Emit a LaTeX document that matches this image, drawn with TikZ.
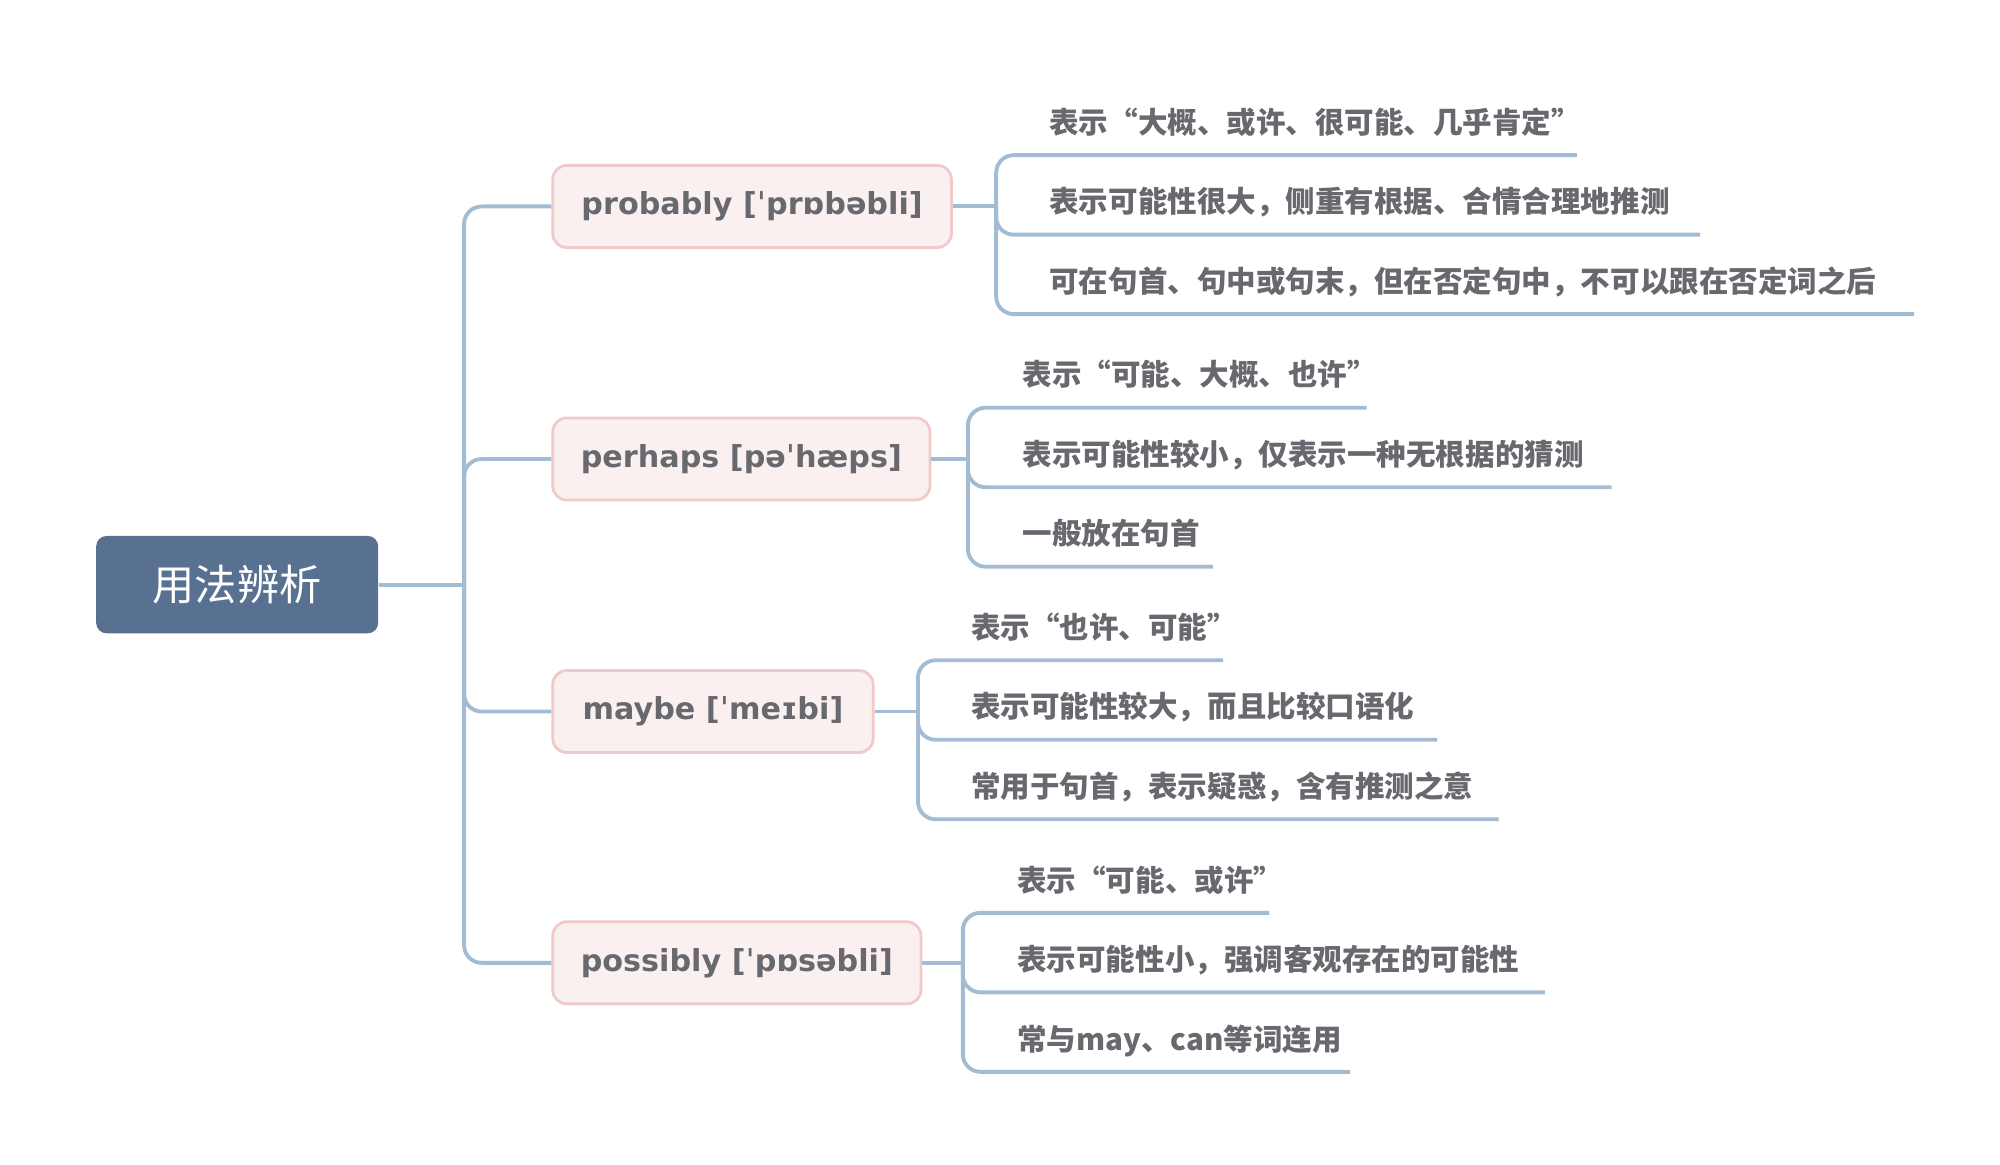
\documentclass[tikz,border=0pt]{standalone}
\usepackage{fontspec}
\newfontfamily\cjk{Noto Sans CJK SC}
\newfontfamily\ipa{DejaVu Sans}
\usepackage{tikz}
\usetikzlibrary{positioning,calc}
\definecolor{rootblue}{HTML}{587190}
\definecolor{linkblue}{HTML}{A3BBD3}
\definecolor{wordfill}{HTML}{FBF0F0}
\definecolor{wordline}{HTML}{F0CACA}
\definecolor{txtgray}{HTML}{68686F}
\begin{document}
\begin{tikzpicture}[x=0.01282cm,y=-0.01282cm]
    \tikzset{
        root/.style={fill=rootblue, rounded corners=3pt, text=white, minimum width=220*0.01282cm, minimum height=76*0.01282cm, font=\cjk\fontsize{12}{14}\selectfont},
        word/.style={fill=wordfill, draw=wordline, line width=0.8pt, rounded corners=4pt, text=txtgray, minimum height=64*0.01282cm, anchor=west, align=left, inner xsep=8pt, font=\ipa\bfseries\fontsize{8.6}{11}\selectfont},
        leaf/.style={anchor=base west, text=txtgray, inner sep=0pt, font=\cjk\bfseries\fontsize{8.4}{10}\selectfont},
        link/.style={draw=linkblue, line width=1.1pt, rounded corners=5pt},
    }
    \useasboundingbox (0,0) rectangle (1560,908);

    \node[root] (root) at (185,456) {用法辨析};

    \node[word, minimum width=311*0.01282cm] (probably) at (430,161) {probably [ˈprɒbəbli]};
    \node[word, minimum width=290*0.01282cm] (perhaps) at (430,358) {perhaps [pəˈhæps]};
    \node[word, minimum width=250*0.01282cm] (maybe) at (430,555) {maybe [ˈmeɪbi]};
    \node[word, minimum width=286*0.01282cm] (possibly) at (430,751) {possibly [ˈpɒsəbli]};

    % trunk
    \coordinate (trunk) at (362,456);
    \draw[link] (root.east) -- (trunk);
    \foreach \w in {probably,perhaps,maybe,possibly}
        \draw[link] (trunk) -- (trunk |- \w.west) -- (\w.west);

    % leaves of probably
    \node[leaf] (p1) at (818,104) {表示“大概、或许、很可能、几乎肯定”};
    \node[leaf] (p2) at (818,166) {表示可能性很大，侧重有根据、合情合理地推测};
    \node[leaf] (p3) at (818,228) {可在句首、句中或句末，但在否定句中，不可以跟在否定词之后};
    \draw[link] (probably.east) -- (777,161);
    \draw[link] (1230,121) -- (777,121) -- (777,245) -- (1493,245);
    \draw[link] (777,161) -- (777,183) -- (1326,183);

    % leaves of perhaps
    \node[leaf] (h1) at (797,301) {表示“可能、大概、也许”};
    \node[leaf] (h2) at (797,363) {表示可能性较小，仅表示一种无根据的猜测};
    \node[leaf] (h3) at (797,425) {一般放在句首};
    \draw[link] (perhaps.east) -- (755,358);
    \draw[link] (1066,318) -- (755,318) -- (755,442) -- (946,442);
    \draw[link] (755,358) -- (755,380) -- (1257,380);

    % leaves of maybe
    \node[leaf] (m1) at (757,498) {表示“也许、可能”};
    \node[leaf] (m2) at (757,560) {表示可能性较大，而且比较口语化};
    \node[leaf] (m3) at (757,622) {常用于句首，表示疑惑，含有推测之意};
    \draw[link] (maybe.east) -- (716,555);
    \draw[link] (954,515) -- (716,515) -- (716,639) -- (1169,639);
    \draw[link] (716,555) -- (716,577) -- (1121,577);

    % leaves of possibly
    \node[leaf] (s1) at (793,695) {表示“可能、或许”};
    \node[leaf] (s2) at (793,757) {表示可能性小，强调客观存在的可能性};
    \node[leaf] (s3) at (793,819) {常与may、can等词连用};
    \draw[link] (possibly.east) -- (751,751);
    \draw[link] (990,712) -- (751,712) -- (751,836) -- (1053,836);
    \draw[link] (751,751) -- (751,774) -- (1205,774);
\end{tikzpicture}
\end{document}
